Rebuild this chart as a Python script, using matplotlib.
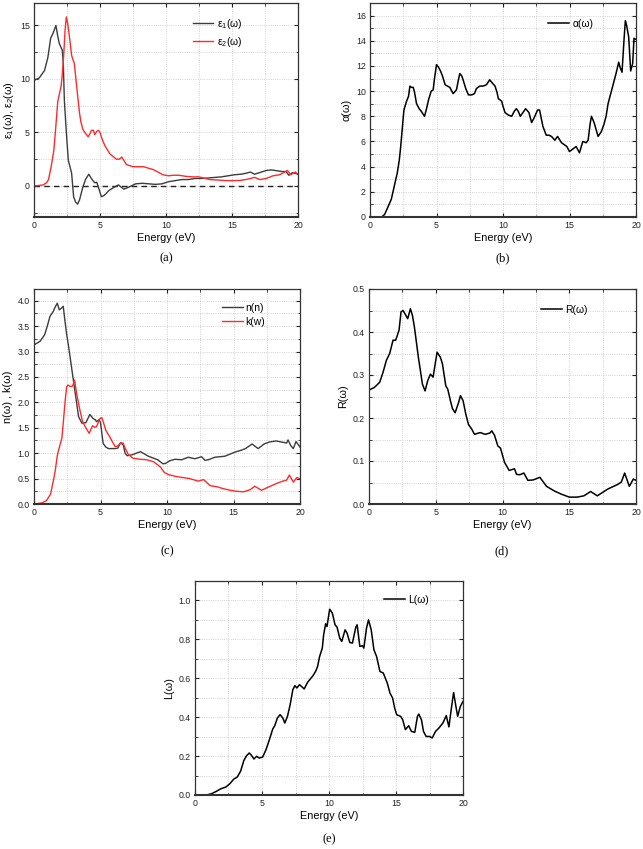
import matplotlib
matplotlib.use("Agg")
import matplotlib.pyplot as plt
from matplotlib.ticker import MultipleLocator

plt.rcParams['font.family'] = ['Liberation Sans', 'DejaVu Sans']
plt.rcParams['mathtext.fontset'] = 'custom'
plt.rcParams['mathtext.rm'] = 'Liberation Sans'

# ---------------- data ----------------
eps1_E = [0, 0.4, 0.8, 1.05, 1.26, 1.45, 1.66, 1.8, 1.92, 2.14, 2.22, 2.3, 2.45, 2.6, 2.85, 3.0, 3.15, 3.3, 3.45,
          3.7, 3.9, 4.15, 4.4, 4.6, 4.75, 4.85, 5.1, 5.3, 5.7, 6.1, 6.4, 6.8, 7.2, 7.7, 8.2, 8.7, 9.2, 9.7, 10.2,
          10.7, 11.2, 11.7, 12.2, 12.7, 13.2, 13.7, 14.2, 14.7, 15.2, 15.7, 16.1, 16.4, 16.7, 17.1, 17.6, 18.0,
          18.4, 18.8, 19.1, 19.3, 19.6, 20.0]
eps1_V = [9.87, 10.1, 10.8, 12.0, 13.8, 14.3, 15.0, 14.0, 13.3, 12.7, 11.5, 8.0, 5.0, 2.4, 1.2, -1.0, -1.5, -1.7, -1.3,
          -0.1, 0.6, 1.1, 0.6, 0.3, 0.35, 0.0, -1.0, -0.9, -0.4, -0.1, 0.1, -0.3, -0.1, 0.2, 0.25, 0.2, 0.15, 0.2, 0.4,
          0.5, 0.6, 0.6, 0.7, 0.7, 0.75, 0.8, 0.85, 0.95, 1.05, 1.1, 1.2, 1.3, 1.1, 1.25, 1.45, 1.5,
          1.42, 1.35, 1.35, 1.0, 1.25, 1.1]

eps2_E = [0, 0.4, 0.7, 0.95, 1.1, 1.3, 1.5, 1.65, 1.8, 2.05, 2.15, 2.25, 2.35, 2.45, 2.55, 2.7, 2.85, 2.95, 3.05,
          3.15, 3.3, 3.45, 3.55, 3.7, 3.85, 4.1, 4.25, 4.35, 4.5, 4.6, 4.75, 4.9, 5.0, 5.1, 5.25, 5.4, 5.75, 6.25,
          6.45, 6.65, 6.8, 7.0, 7.5, 8.0, 8.3, 8.7, 9.0, 9.4, 9.75, 10.2, 10.5, 11.0, 11.5, 12.0, 12.5, 13.0, 13.3,
          14.0, 14.6, 15.2, 15.6, 16.05, 16.4, 16.7, 17.1, 17.6, 18.1, 18.6, 19.0, 19.2, 19.45, 19.8, 20.0]
eps2_V = [0.0, 0.05, 0.1, 0.3, 0.6, 1.8, 3.3, 5.5, 7.9, 9.3, 10.5, 12.2, 14.5, 15.8, 15.2, 13.8, 12.2, 11.8, 11.5,
          10.3, 8.5, 6.8, 6.0, 5.3, 5.0, 4.6, 4.9, 5.2, 5.2, 4.8, 5.1, 5.2, 5.0, 4.6, 4.1, 3.7, 3.0, 2.5,
          2.5, 2.7, 2.4, 2.0, 1.8, 1.8, 1.8, 1.65, 1.55, 1.3, 1.05, 0.95, 1.0, 1.0, 0.9, 0.85, 0.85, 0.7, 0.6,
          0.55, 0.5, 0.5, 0.52, 0.6, 0.7, 0.8, 0.6, 0.7, 0.95, 1.05, 1.3, 1.45, 1.05, 1.3, 1.05]

alpha_E = [0, 0.75, 0.9, 1.1, 1.35, 1.6, 1.9, 2.05, 2.2, 2.3, 2.4, 2.55, 2.75, 2.9, 3.0, 3.1, 3.25, 3.35, 3.5, 3.7,
           3.85, 4.1, 4.25, 4.4, 4.6, 4.75, 4.85, 5.0, 5.15, 5.3, 5.45, 5.65, 6.0, 6.25, 6.5, 6.65, 6.75, 6.9, 7.0,
           7.2, 7.4, 7.65, 7.85, 8.0, 8.25, 8.5, 8.75, 9.0, 9.15, 9.4, 9.55, 9.65, 9.9, 10.0, 10.15, 10.4, 10.65,
           10.85, 11.0, 11.15, 11.3, 11.5, 11.7, 11.95, 12.15, 12.35, 12.6, 12.75, 13.0, 13.25, 13.45, 13.65, 13.9,
           14.1, 14.4, 14.8, 15.0, 15.25, 15.5, 15.75, 16.0, 16.25, 16.4, 16.55, 16.65, 16.85, 17.15, 17.4, 17.6,
           17.75, 17.9, 18.25, 18.5, 18.7, 18.8, 18.95, 19.1, 19.2, 19.3, 19.45, 19.6, 19.75, 19.85, 20.0]
alpha_V = [0, 0, 0.02, 0.2, 0.8, 1.4, 2.8, 3.5, 4.5, 5.5, 6.7, 8.5, 9.2, 9.6, 10.4, 10.3, 10.3, 9.9, 9.0, 8.6,
           8.4, 8.0, 8.6, 9.3, 10.0, 10.1, 11.0, 12.1, 11.9, 11.6, 11.2, 10.5, 10.3, 9.8, 10.1, 10.9, 11.4, 11.2, 10.9,
           10.2, 9.7, 9.7, 9.8, 10.2, 10.4, 10.4, 10.5, 10.9, 10.7, 10.4, 9.9, 9.4, 9.2, 8.8, 8.3, 8.1, 8.0,
           8.4, 8.6, 8.4, 8.0, 8.3, 8.6, 8.3, 7.5, 7.9, 8.5, 8.5, 7.2, 6.5, 6.5, 6.4, 6.1,
           6.4, 5.9, 5.6, 5.2, 5.4, 5.6, 5.1, 6.0, 5.9, 6.1, 7.4, 8.0, 7.5, 6.4, 6.8, 7.4,
           8.0, 9.0, 10.4, 11.4, 12.3, 11.9, 11.5, 14.1, 15.6, 15.2, 14.3, 11.6, 12.2, 14.2, 14.1]

n_E = [0, 0.45, 0.8, 1.0, 1.2, 1.45, 1.6, 1.75, 1.9, 2.05, 2.2, 2.3, 2.45, 2.6, 2.85, 3.1, 3.35, 3.6, 3.9, 4.2,
       4.45, 4.6, 4.7, 4.9, 5.0, 5.2, 5.4, 5.6, 6.1, 6.3, 6.5, 6.7, 6.85, 7.0, 7.4, 8.0, 8.6, 9.3, 9.7, 9.9, 10.2,
       10.6, 11.1, 11.6, 12.1, 12.6, 12.85, 13.1, 13.6, 14.35, 15.1, 15.6, 15.9, 16.4, 16.85, 17.3, 17.7, 18.2,
       18.6, 19.0, 19.1, 19.3, 19.5, 19.7, 20.0]
n_V = [3.13, 3.2, 3.33, 3.5, 3.69, 3.79, 3.88, 3.95, 3.82, 3.85, 3.89, 3.66, 3.35, 3.1, 2.64, 2.18, 1.72, 1.59, 1.6, 1.76,
       1.68, 1.66, 1.62, 1.66, 1.6, 1.19, 1.12, 1.09, 1.09, 1.1, 1.2, 1.17, 1.0, 0.95, 0.97, 1.03, 0.94, 0.87, 0.79, 0.8, 0.85,
       0.88, 0.87, 0.92, 0.89, 0.93, 0.86, 0.87, 0.92, 0.94, 1.02, 1.06, 1.09, 1.18, 1.09, 1.18, 1.22, 1.24,
       1.22, 1.2, 1.26, 1.15, 1.09, 1.23, 1.12]

k_E = [0, 0.6, 0.95, 1.25, 1.45, 1.6, 1.75, 1.85, 2.1, 2.25, 2.35, 2.45, 2.55, 2.75, 2.9, 3.05, 3.2, 3.45, 3.65, 3.85,
       4.15, 4.4, 4.55, 4.7, 4.95, 5.1, 5.25, 5.4, 5.7, 5.9, 6.1, 6.3, 6.5, 6.7, 6.85, 7.1, 7.45, 8.0, 8.5, 9.0, 9.5,
       9.8, 10.1, 10.7, 11.2, 11.7, 12.35, 12.75, 13.25, 13.75, 14.25, 14.75, 15.25, 15.75, 16.25, 16.6, 17.1, 17.6,
       18.2, 18.7, 19.0, 19.2, 19.5, 19.75, 20.0]
k_V = [0, 0.02, 0.07, 0.2, 0.45, 0.66, 0.95, 1.06, 1.3, 1.75, 2.05, 2.3, 2.34, 2.31, 2.32, 2.44, 2.18, 1.85, 1.62, 1.52,
       1.39, 1.54, 1.51, 1.52, 1.68, 1.7, 1.58, 1.45, 1.32, 1.22, 1.13, 1.14, 1.2, 1.2, 1.1, 0.97, 0.9, 0.88, 0.87, 0.83, 0.73,
       0.62, 0.58, 0.54, 0.52, 0.5, 0.45, 0.48, 0.36, 0.34, 0.3, 0.27, 0.25, 0.24, 0.28, 0.35, 0.27, 0.33,
       0.4, 0.45, 0.47, 0.57, 0.43, 0.52, 0.5]

R_E = [0, 0.4, 0.8, 1.05, 1.3, 1.55, 1.8, 2.0, 2.25, 2.4, 2.55, 2.7, 2.9, 3.1, 3.25, 3.4, 3.7, 4.0, 4.2, 4.4, 4.6,
       4.8, 5.1, 5.35, 5.5, 5.75, 5.9, 6.1, 6.25, 6.45, 6.7, 6.85, 7.05, 7.25, 7.45, 7.7, 7.9, 8.2, 8.35, 8.7, 9.05,
       9.2, 9.4, 9.65, 9.85, 10.15, 10.5, 10.9, 11.05, 11.3, 11.6, 11.9, 12.3, 12.8, 13.3, 13.9, 14.4, 15.0, 15.6,
       16.1, 16.6, 17.1, 17.9, 18.6, 18.9, 19.15, 19.5, 19.8, 20.0]
R_V = [0.265, 0.271, 0.283, 0.306, 0.334, 0.35, 0.381, 0.381, 0.404, 0.447, 0.45, 0.442, 0.431, 0.454, 0.439, 0.412,
       0.341, 0.279, 0.263, 0.287, 0.302, 0.295, 0.353, 0.341, 0.326, 0.275, 0.267, 0.24, 0.222, 0.212, 0.235, 0.252,
       0.24, 0.209, 0.185, 0.174, 0.162, 0.165, 0.166, 0.162, 0.165, 0.17, 0.16, 0.135, 0.13, 0.097, 0.078, 0.082,
       0.069, 0.068, 0.072, 0.055, 0.056, 0.062, 0.041, 0.03, 0.023, 0.016, 0.016, 0.019, 0.029, 0.019, 0.035, 0.045,
       0.051, 0.072, 0.041, 0.058, 0.055]

L_E = [0, 0.87, 1.25, 1.6, 1.9, 2.3, 2.6, 2.9, 3.15, 3.4, 3.65, 3.85, 4.05, 4.2, 4.4, 4.6, 4.8, 5.05, 5.3, 5.55,
       5.8, 5.95, 6.15, 6.35, 6.55, 6.7, 6.9, 7.1, 7.3, 7.45, 7.6, 7.8, 7.95, 8.15, 8.4, 8.6, 8.8, 9.0, 9.15, 9.3,
       9.5, 9.6, 9.75, 9.85, 10.05, 10.25, 10.45, 10.6, 10.8, 10.95, 11.2, 11.35, 11.55, 11.75, 12.0, 12.1, 12.3,
       12.5, 12.6, 12.8, 12.95, 13.15, 13.35, 13.55, 13.8, 14.05, 14.35, 14.55, 14.75, 14.9, 15.05, 15.35, 15.5,
       15.7, 15.95, 16.15, 16.4, 16.6, 16.7, 16.9, 17.05, 17.25, 17.5, 17.7, 17.95, 18.2, 18.5, 18.75, 18.95,
       19.15, 19.3, 19.45, 19.6, 19.8, 20.0]
L_V = [0, 0, 0.007, 0.019, 0.031, 0.041, 0.058, 0.082, 0.092, 0.122, 0.178, 0.202, 0.216, 0.205, 0.185, 0.199,
       0.19, 0.195, 0.233, 0.284, 0.339, 0.356, 0.396, 0.413, 0.396, 0.37, 0.404, 0.464, 0.541, 0.562, 0.55, 0.567,
       0.558, 0.545, 0.579, 0.596, 0.613, 0.635, 0.661, 0.712, 0.755, 0.824, 0.88, 0.866, 0.955, 0.935, 0.875,
       0.863, 0.807, 0.789, 0.849, 0.832, 0.784, 0.781, 0.863, 0.875, 0.764, 0.767, 0.755, 0.858, 0.9, 0.849,
       0.747, 0.712, 0.635, 0.627, 0.575, 0.524, 0.498, 0.447, 0.413, 0.404, 0.387, 0.336, 0.356, 0.327, 0.322,
       0.404, 0.416, 0.387, 0.327, 0.301, 0.301, 0.293, 0.327, 0.344, 0.37, 0.408, 0.35, 0.455, 0.527, 0.464,
       0.404, 0.455, 0.481]

# ---------------- figure ----------------
W, H = 643, 849
fig = plt.figure(figsize=(W / 100, H / 100), dpi=100)

def make_ax(l, t, r, b):
    return fig.add_axes([l / W, 1 - b / H, (r - l) / W, (b - t) / H])

TICK_FS = 6.3
LAB_FS = 7.8
LEG_FS = 7.5

def style(ax, ylim, ymaj, ymin, ylabel):
    ax.set_xlim(0, 20)
    ax.set_ylim(*ylim)
    ax.xaxis.set_major_locator(MultipleLocator(5))
    ax.xaxis.set_minor_locator(MultipleLocator(2.5))
    ax.yaxis.set_major_locator(MultipleLocator(ymaj))
    ax.yaxis.set_minor_locator(MultipleLocator(ymin))
    ax.grid(True, which='both', linestyle=':', linewidth=0.6, color='#c4c4c4')
    ax.set_axisbelow(True)
    ax.tick_params(which='both', direction='in', top=True, right=True,
                   labelsize=TICK_FS, colors='#222222', pad=3)
    ax.tick_params(which='major', length=3.2, width=0.8)
    ax.tick_params(which='minor', length=1.8, width=0.6)
    for s in ax.spines.values():
        s.set_linewidth(0.9)
        s.set_color('#333333')
    ax.spines['bottom'].set_linewidth(1.5)
    ax.set_xlabel('Energy (eV)', fontsize=LAB_FS, labelpad=2)
    ax.set_ylabel(ylabel, fontsize=LAB_FS, labelpad=3)

def legend(ax, x, y):
    ax.legend(loc='upper left', bbox_to_anchor=(x, y), frameon=False, fontsize=LEG_FS,
              handlelength=2.0, handletextpad=0.3, labelspacing=0.4, borderaxespad=0)

GRAY = '#3c3c3c'
RED = '#ff2a2a'

# (a)
ax = make_ax(34, 3, 298, 217)
ax.axhline(0, color='#222222', linestyle='--', linewidth=1.0, dashes=(4, 3))
ax.plot(eps1_E, eps1_V, color=GRAY, lw=1.0, label='ε$\\mathregular{_1}$(ω)')
ax.plot(eps2_E, eps2_V, color=RED, lw=1.0, label='ε$\\mathregular{_2}$(ω)')
style(ax, (-2.9, 17.1), 5, 2.5, 'ε$\\mathregular{_1}$(ω), ε$\\mathregular{_2}$(ω)')
legend(ax, 0.585, 0.955)

# (b)
ax = make_ax(370, 3, 636, 217)
ax.plot(alpha_E, alpha_V, color='black', lw=1.1, label='α(ω)')
style(ax, (0, 17), 2, 1, 'α(ω)')
legend(ax, 0.655, 0.945)

# (c)
ax = make_ax(34, 289, 300, 504)
ax.plot(n_E, n_V, color=GRAY, lw=1.0, label='n(n)')
ax.plot(k_E, k_V, color=RED, lw=1.0, label='k(w)')
style(ax, (0, 4.23), 0.5, 0.25, 'n(ω) , k(ω)')
legend(ax, 0.69, 0.955)

# (d)
ax = make_ax(369, 289, 636, 504)
ax.plot(R_E, R_V, color='black', lw=1.1, label='R(ω)')
style(ax, (0, 0.5), 0.1, 0.05, 'R(ω)')
legend(ax, 0.63, 0.945)

# (e)
ax = make_ax(195, 581, 463, 795)
ax.plot(L_E, L_V, color='black', lw=1.1, label='L(ω)')
style(ax, (0, 1.1), 0.2, 0.1, 'L(ω)')
legend(ax, 0.69, 0.955)

# panel letters
for txt, cx, cy in [('(a)', 166, 258), ('(b)', 503, 258), ('(c)', 167, 551), ('(d)', 502, 551), ('(e)', 329, 839)]:
    fig.text(cx / W, 1 - cy / H, txt, ha='center', va='center', fontsize=9,
             family=['Liberation Serif', 'DejaVu Serif'])

fig.savefig('out.png', dpi=100)
